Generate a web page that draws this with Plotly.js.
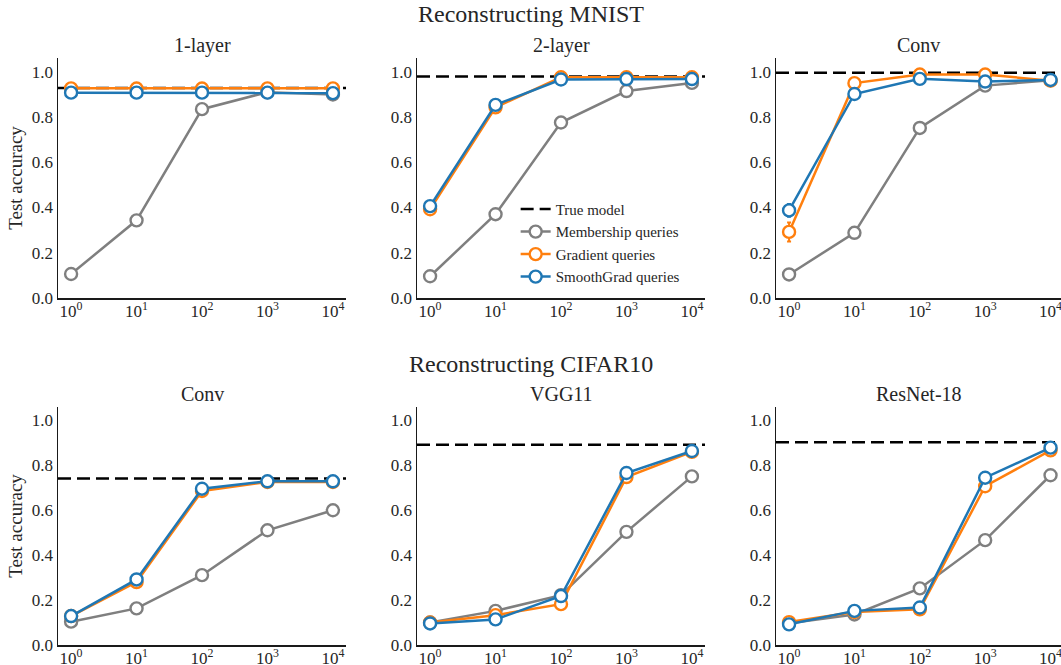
<!DOCTYPE html>
<html><head><meta charset="utf-8">
<script src="https://cdn.plot.ly/plotly-3.0.1.min.js"></script>
<style>html,body{margin:0;padding:0;background:#fff}#chart{width:1061px;height:665px}</style>
</head><body><div id="chart"></div>
<script>
const queries = [1, 10, 100, 1000, 10000];
const tickLabels = ['10<sup>0</sup>','10<sup>1</sup>','10<sup>2</sup>','10<sup>3</sup>','10<sup>4</sup>'];
const panelTitles = ['1-layer','2-layer','Conv','Conv','VGG11','ResNet-18'];
const rowTitles = ['Reconstructing MNIST','Reconstructing CIFAR10'];
const seriesNames = ['Membership queries','Gradient queries','SmoothGrad queries'];
const trueModel = [0.928, 0.978, 0.995, 0.742, 0.892, 0.903];

const membership = [
  [0.106, 0.343, 0.834, 0.909, 0.899],
  [0.096, 0.370, 0.775, 0.914, 0.950],
  [0.104, 0.288, 0.751, 0.938, 0.962],
  [0.104, 0.163, 0.311, 0.511, 0.600],
  [0.100, 0.152, 0.222, 0.504, 0.751],
  [0.097, 0.136, 0.252, 0.467, 0.756]
];
const membershipErr = [
  [0.005, 0.022, 0.006, 0.004, 0.004],
  [0.004, 0.008, 0.006, 0.004, 0.004],
  [0.004, 0.006, 0.006, 0.004, 0.004],
  [0.004, 0.005, 0.005, 0.005, 0.005],
  [0.003, 0.006, 0.005, 0.005, 0.005],
  [0.003, 0.005, 0.005, 0.005, 0.005]
];
const gradient = [
  [0.926, 0.925, 0.925, 0.926, 0.926],
  [0.392, 0.842, 0.975, 0.975, 0.975],
  [0.292, 0.949, 0.987, 0.987, 0.960],
  [0.129, 0.280, 0.686, 0.726, 0.726],
  [0.100, 0.133, 0.182, 0.748, 0.860],
  [0.102, 0.147, 0.159, 0.707, 0.867]
];
const gradientErr = [
  [0.004, 0.004, 0.004, 0.004, 0.004],
  [0.006, 0.022, 0.004, 0.004, 0.004],
  [0.042, 0.006, 0.004, 0.004, 0.004],
  [0.004, 0.012, 0.006, 0.004, 0.004],
  [0.003, 0.006, 0.005, 0.005, 0.004],
  [0.004, 0.005, 0.005, 0.006, 0.004]
];
const smoothgrad = [
  [0.907, 0.907, 0.907, 0.907, 0.905],
  [0.406, 0.853, 0.965, 0.967, 0.967],
  [0.387, 0.901, 0.968, 0.956, 0.963],
  [0.129, 0.292, 0.696, 0.729, 0.729],
  [0.096, 0.114, 0.218, 0.766, 0.864],
  [0.092, 0.152, 0.167, 0.745, 0.879]
];
const smoothgradErr = [
  [0.004, 0.004, 0.004, 0.004, 0.004],
  [0.006, 0.012, 0.004, 0.004, 0.004],
  [0.028, 0.006, 0.004, 0.004, 0.004],
  [0.004, 0.022, 0.006, 0.004, 0.004],
  [0.003, 0.006, 0.005, 0.005, 0.004],
  [0.003, 0.005, 0.005, 0.005, 0.004]
];

const W = 1061, H = 665;
const colors = ['#7f7f7f', '#ff7f0e', '#1f77b4'];
const FONT = 'Liberation Serif, DejaVu Serif, serif';
const TXT = '#262626';
// pixel boxes for panels [left, right, top, bottom]
const colsPx = [[58, 346], [417, 705], [776, 1061]];
const rowsPx = [[58, 298], [407, 645]];
const xRanges = [[-0.2, 4.2], [-0.2, 4.2], [-0.2, 4.16]];
const yRange = [0, 1.06];

const data = [];
const layout = {
  width: W, height: H, margin: {l: 0, r: 0, t: 0, b: 0},
  paper_bgcolor: '#fff', plot_bgcolor: '#fff',
  font: {family: FONT, color: TXT, size: 17},
  showlegend: true,
  legend: {x: 0.486, y: 0.71, xanchor: 'left', yanchor: 'top', bgcolor: 'rgba(0,0,0,0)',
           font: {family: FONT, size: 15, color: TXT}, tracegroupgap: 0, itemwidth: 30},
  annotations: [], shapes: []
};

const sets = [membership, gradient, smoothgrad];
const errs = [membershipErr, gradientErr, smoothgradErr];

for (let p = 0; p < 6; p++) {
  const r = Math.floor(p / 3), c = p % 3;
  const n = p + 1;
  const xa = 'xaxis' + (n === 1 ? '' : n), ya = 'yaxis' + (n === 1 ? '' : n);
  const xr = 'x' + (n === 1 ? '' : n), yr = 'y' + (n === 1 ? '' : n);
  layout[xa] = {
    type: 'log', domain: [colsPx[c][0] / W, colsPx[c][1] / W], range: xRanges[c],
    anchor: yr, tickvals: queries, ticktext: tickLabels, showgrid: false, zeroline: false,
    showline: true, linecolor: '#1a1a1a', linewidth: 1.5, ticks: '', ticklabeloverflow: 'allow',
    ticklabelstandoff: -3,
    tickfont: {family: FONT, size: 17, color: TXT}
  };
  layout[ya] = {
    domain: [1 - rowsPx[r][1] / H, 1 - rowsPx[r][0] / H], range: yRange,
    anchor: xr, tickvals: [0, 0.2, 0.4, 0.6, 0.8, 1.0], tickformat: '.1f',
    showgrid: false, zeroline: false, showline: true, linecolor: '#1a1a1a', linewidth: 1.5,
    ticks: '', tickfont: {family: FONT, size: 17, color: TXT}
  };
  if (c === 0) {
    layout[ya].title = {text: 'Test accuracy', font: {family: FONT, size: 19, color: TXT}, standoff: 4};
  }
  // true model dashed line across full x range
  data.push({
    x: [Math.pow(10, xRanges[c][0]), Math.pow(10, xRanges[c][1])], y: [trueModel[p], trueModel[p]],
    xaxis: xr, yaxis: yr, mode: 'lines', name: 'True model', legendgroup: 'true',
    showlegend: p === 1, line: {color: '#000', width: 2.5, dash: '13px,6px'}, hoverinfo: 'skip',
    cliponaxis: false
  });
  for (let s = 0; s < 3; s++) {
    data.push({
      x: queries, y: sets[s][p], xaxis: xr, yaxis: yr, mode: 'lines+markers',
      name: seriesNames[s], legendgroup: 's' + s, showlegend: p === 1,
      line: {color: colors[s], width: 2.5},
      marker: {symbol: 'circle', size: 12, color: '#fff', line: {color: colors[s], width: 2.4}},
      error_y: {type: 'data', array: errs[s][p], visible: true, color: colors[s], thickness: 2, width: 2},
      cliponaxis: false
    });
  }
  layout.annotations.push({
    text: panelTitles[p], xref: 'paper', yref: 'paper', showarrow: false,
    x: (colsPx[c][0] + colsPx[c][1]) / 2 / W, y: 1 - (rowsPx[r][0] - 13) / H,
    xanchor: 'center', yanchor: 'middle', font: {family: FONT, size: 20, color: TXT}
  });
}
rowTitles.forEach((t, i) => {
  layout.annotations.push({
    text: t, xref: 'paper', yref: 'paper', showarrow: false,
    x: 0.5, y: 1 - (i === 0 ? 14 : 364) / H, xanchor: 'center', yanchor: 'middle',
    font: {family: FONT, size: 24, color: TXT}
  });
});

Plotly.newPlot('chart', data, layout, {displayModeBar: false, staticPlot: true});
</script></body></html>
